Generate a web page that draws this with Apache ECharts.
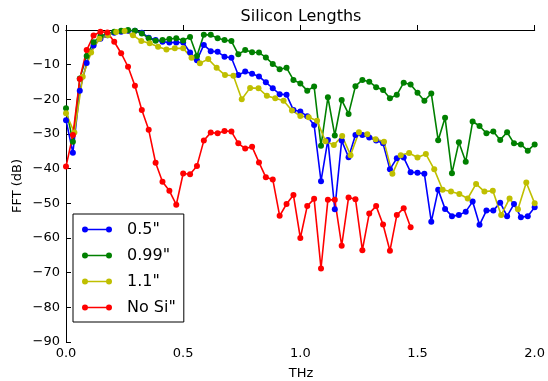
<!DOCTYPE html>
<html>
<head>
<meta charset="utf-8">
<script src="https://cdn.jsdelivr.net/npm/echarts@6/dist/echarts.min.js"></script>
<style>
  html, body { margin: 0; padding: 0; background: #fff; }
  #chart { width: 548px; height: 381px; }
</style>
</head>
<body>
<div id="chart"></div>
<script>
// Series labels and colours
const seriesNames = ['0.5"', '0.99"', '1.1"', 'No Si"'];
const seriesColors = ['#0000ff', '#008000', '#bfbf00', '#ff0000'];

// FFT bin spacing (THz): the 0.5", 0.99" and reference traces share one grid,
// the 1.1" trace is coarser.
const binStep = 2 / 68;
const binStepCoarse = 2 / 56;

// Axis ranges
const xRange = [0, 2.0];
const xTickStep = 0.5;
const yRange = [-90, 0];
const yTickStep = 10;

// FFT magnitude (dB) per bin
const si05 = [-26, -35.4, -17.5, -9.5, -4.5, -2.5, -1.5, -0.8, -0.5, -0.2,
  -0.2, -0.8, -2.2, -2.9, -3.4, -3.6, -3.6, -3.6, -6.5, -8.7,
  -4.3, -6.1, -6.3, -7.7, -8.0, -13.0, -12.0, -12.6, -13.4, -15.1,
  -16.8, -18.5, -18.7, -23.1, -23.5, -24.9, -27.4, -43.6, -31.7, -51.7,
  -31.9, -36.7, -30.3, -30.3, -31.0, -31.9, -32.7, -40.2, -37.0, -36.8,
  -41.0, -41.2, -41.5, -55.3, -46.1, -51.6, -53.7, -53.4, -52.4, -49.5,
  -56.2, -52.1, -52.1, -49.8, -53.7, -50.2, -54.0, -53.7, -51.1];

const si099 = [-22.6, -32.2, -14, -7.5, -3.5, -1.8, -1.0, -0.5, -0.2, 0,
  -0.2, -1.0, -2.4, -3.1, -2.9, -2.6, -2.4, -3.0, -2.0, -7.5,
  -1.4, -1.4, -2.4, -2.9, -3.2, -7.0, -5.8, -6.4, -6.5, -7.9,
  -9.8, -11.3, -10.9, -14.4, -15.4, -17.5, -16.3, -33.4, -19.4, -30.4,
  -20.2, -24.2, -16.2, -14.4, -14.9, -16.5, -17.3, -19.7, -18.7, -15.2,
  -15.7, -18.1, -20.4, -18.3, -31.8, -25.3, -41.3, -32.4, -38.0, -26.4,
  -27.7, -29.8, -29.3, -31.7, -29.5, -32.7, -33.0, -34.8, -33.0];

const si11 = [-24, -29.6, -13.5, -6.5, -2.5, -1.5, -0.6, -0.3, -1.5, -3.2,
  -3.8, -4.8, -5.6, -5.3, -5.3, -8.0, -9.6, -8.4, -10.9, -13.0,
  -13.2, -20.0, -16.7, -16.8, -19.0, -19.7, -20.4, -23.2, -24.8, -25.2,
  -26.2, -32.1, -33.2, -30.6, -36.1, -29.5, -30.1, -31.5, -32.2, -41.5,
  -36.1, -35.5, -36.8, -35.8, -40.2, -46.1, -46.6, -47.3, -48.6, -44.4,
  -46.6, -46.4, -53.4, -48.6, -51.7, -44.0, -50.0];

const noSi = [-39.4, -30.3, -14.1, -5.8, -1.6, -0.5, -0.7, -3.4, -6.7, -10.6,
  -16.1, -23.1, -28.8, -38.3, -43.8, -46.4, -50.4, -41.4, -41.6, -39.2,
  -31.9, -29.6, -29.8, -29.1, -29.3, -32.7, -34.2, -33.7, -38.2, -42.5,
  -43.1, -53.6, -50.2, -47.6, -60.0, -50.8, -48.7, -68.8, -49.0, -49.0,
  -62.2, -48.3, -48.8, -63.5, -52.9, -50.8, -56.1, -63.7, -53.4, -51.4, -56.9];

// Pair each magnitude with the frequency of its bin
function toPoints(values, step) {
  return values.map((v, i) => [Math.round(i * step * 1e6) / 1e6, v]);
}

const seriesData = [
  toPoints(si05, binStep),
  toPoints(si099, binStep),
  toPoints(si11, binStepCoarse),
  toPoints(noSi, binStep)
];

const FONT = 'DejaVu Sans';
const minus = v => String(v).replace('-', '\u2212');

// Legend marker: a short line with a dot at each end
const legendIcon = 'path://M3,2.2L27,2.2L27,3.8L3,3.8Z M0,3A3,3 0 1,1 6,3A3,3 0 1,1 0,3Z M24,3A3,3 0 1,1 30,3A3,3 0 1,1 24,3Z';

function frameAxis(inside) {
  return {
    axisLine: { show: true, lineStyle: { color: '#000', width: 1 } },
    axisTick: { show: true, inside: inside, length: 5, lineStyle: { color: '#000', width: 1 } },
    splitLine: { show: false }
  };
}

const chart = echarts.init(document.getElementById('chart'), null, { renderer: 'canvas' });

chart.setOption({
  animation: false,
  backgroundColor: '#fff',
  textStyle: { fontFamily: FONT },
  grid: { left: 66, right: 12, top: 30, bottom: 39, containLabel: false },
  xAxis: [
    Object.assign({
      type: 'value', position: 'bottom', min: xRange[0], max: xRange[1], interval: xTickStep,
      axisLabel: { color: '#000', fontSize: 13, fontFamily: FONT, margin: 5,
                   formatter: v => v.toFixed(1) }
    }, frameAxis(true)),
    Object.assign({
      type: 'value', position: 'top', min: xRange[0], max: xRange[1], interval: xTickStep,
      axisLabel: { show: false }
    }, frameAxis(false))
  ],
  yAxis: [
    Object.assign({
      type: 'value', position: 'left', min: yRange[0], max: yRange[1], interval: yTickStep,
      axisLabel: { color: '#000', fontSize: 13, fontFamily: FONT, margin: 6, formatter: minus }
    }, frameAxis(true)),
    Object.assign({
      type: 'value', position: 'right', min: yRange[0], max: yRange[1], interval: yTickStep,
      axisLabel: { show: false }
    }, frameAxis(false))
  ],
  legend: {
    orient: 'vertical',
    left: 73, top: 214,
    padding: [6, 8, 5, 9],
    itemGap: 7,
    itemWidth: 30, itemHeight: 6,
    backgroundColor: '#fff',
    borderColor: '#000', borderWidth: 1, borderRadius: 0,
    icon: legendIcon,
    textStyle: { fontSize: 16, fontFamily: FONT, color: '#000', lineHeight: 19, padding: [0, 0, 0, 10] },
    data: seriesNames
  },
  graphic: [
    { type: 'text', x: 301, y: 17, style: { text: 'Silicon Lengths', font: '16px "DejaVu Sans"', fill: '#000', textAlign: 'center', textVerticalAlign: 'middle' } },
    { type: 'text', x: 301, y: 374, style: { text: 'THz', font: '13px "DejaVu Sans"', fill: '#000', textAlign: 'center', textVerticalAlign: 'middle' } },
    { type: 'text', x: 18, y: 186, rotation: Math.PI / 2, style: { text: 'FFT (dB)', font: '13px "DejaVu Sans"', fill: '#000', textAlign: 'center', textVerticalAlign: 'middle' } }
  ],
  series: seriesNames.map((name, i) => ({
    name: name,
    type: 'line',
    xAxisIndex: 0,
    yAxisIndex: 0,
    data: seriesData[i],
    clip: true,
    symbol: 'circle',
    symbolSize: 6,
    showAllSymbol: true,
    color: seriesColors[i],
    itemStyle: { color: seriesColors[i] },
    lineStyle: { color: seriesColors[i], width: 1.6 },
    emphasis: { disabled: true }
  }))
});
</script>
</body>
</html>
